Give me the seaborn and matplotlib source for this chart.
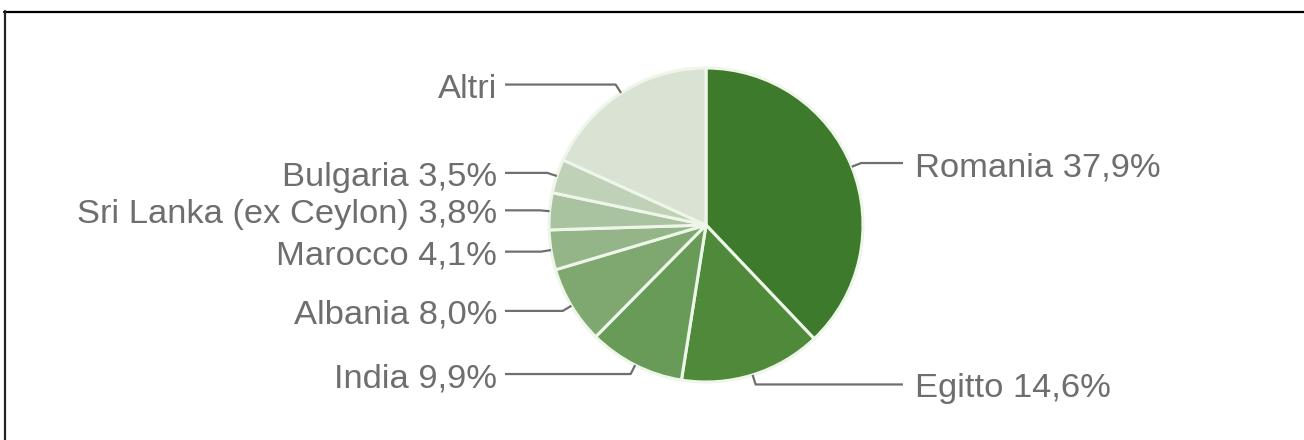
import numpy as np
import matplotlib
matplotlib.use("Agg")
import matplotlib.pyplot as plt
from matplotlib.lines import Line2D
import seaborn as sns

# Share of foreign residents by country of origin
countries = ["Romania", "Egitto", "India", "Albania", "Marocco",
             "Sri Lanka (ex Ceylon)", "Bulgaria", "Altri"]
shares = [37.9, 14.6, 9.9, 8.0, 4.1, 3.8, 3.5, 18.2]
show_share = [True, True, True, True, True, True, True, False]

colors = ["#3e7a2b", "#4f8a3b", "#689a58", "#7ea870", "#93b587",
          "#a9c29f", "#bfd1b6", "#d9e2d3"]

sns.set_theme(style="white")
plt.rcParams["font.family"] = ["Liberation Sans", "DejaVu Sans"]

W, H = 1304, 440
fig = plt.figure(figsize=(W / 100, H / 100), dpi=100)
fig.patch.set_facecolor("white")
ax = fig.add_axes([0, 0, 1, 1])

cx, cy, r = 706, 225, 157
wedges, _ = ax.pie(shares, colors=colors, startangle=-90, counterclock=True,
                   center=(cx, cy), radius=r,
                   wedgeprops=dict(edgecolor="#eef6ea", linewidth=2.2))
ax.set_xlim(0, W)
ax.set_ylim(H, 0)
ax.set_aspect("equal")
ax.set_axis_off()

line_col = "#6f6f6f"
text_col = "#6e6e6e"
left_end, right_end = 505, 903
left_text, right_text = 497, 915

for w, name, val, show in zip(wedges, countries, shares, show_share):
    mid = np.deg2rad((w.theta1 + w.theta2) / 2)
    ux, uy = np.cos(mid), np.sin(mid)
    x0, y0 = cx + r * ux, cy + r * uy
    x1, y1 = cx + (r + 10) * ux, cy + (r + 10) * uy
    label = f"{name} {val:.1f}%".replace(".", ",") if show else name
    if ux >= 0:
        xs, tx, ha = right_end, right_text, "left"
    else:
        xs, tx, ha = left_end, left_text, "right"
    ax.plot([x0, x1, xs], [y0, y1, y1], color=line_col, lw=1.6,
            solid_capstyle="butt", zorder=1)
    ax.text(tx, y1 + 13, label, ha=ha, va="baseline", fontsize=24.8,
            color=text_col)

# frame lines along the top and left edges
fig.add_artist(Line2D([4 / W, 1], [1 - 11.8 / H, 1 - 11.8 / H],
                      transform=fig.transFigure, color="black", lw=1.6))
fig.add_artist(Line2D([5.3 / W, 5.3 / W], [0, 1 - 11 / H],
                      transform=fig.transFigure, color="#222222", lw=1.6))

fig.savefig("out.png", dpi=100, facecolor="white")
